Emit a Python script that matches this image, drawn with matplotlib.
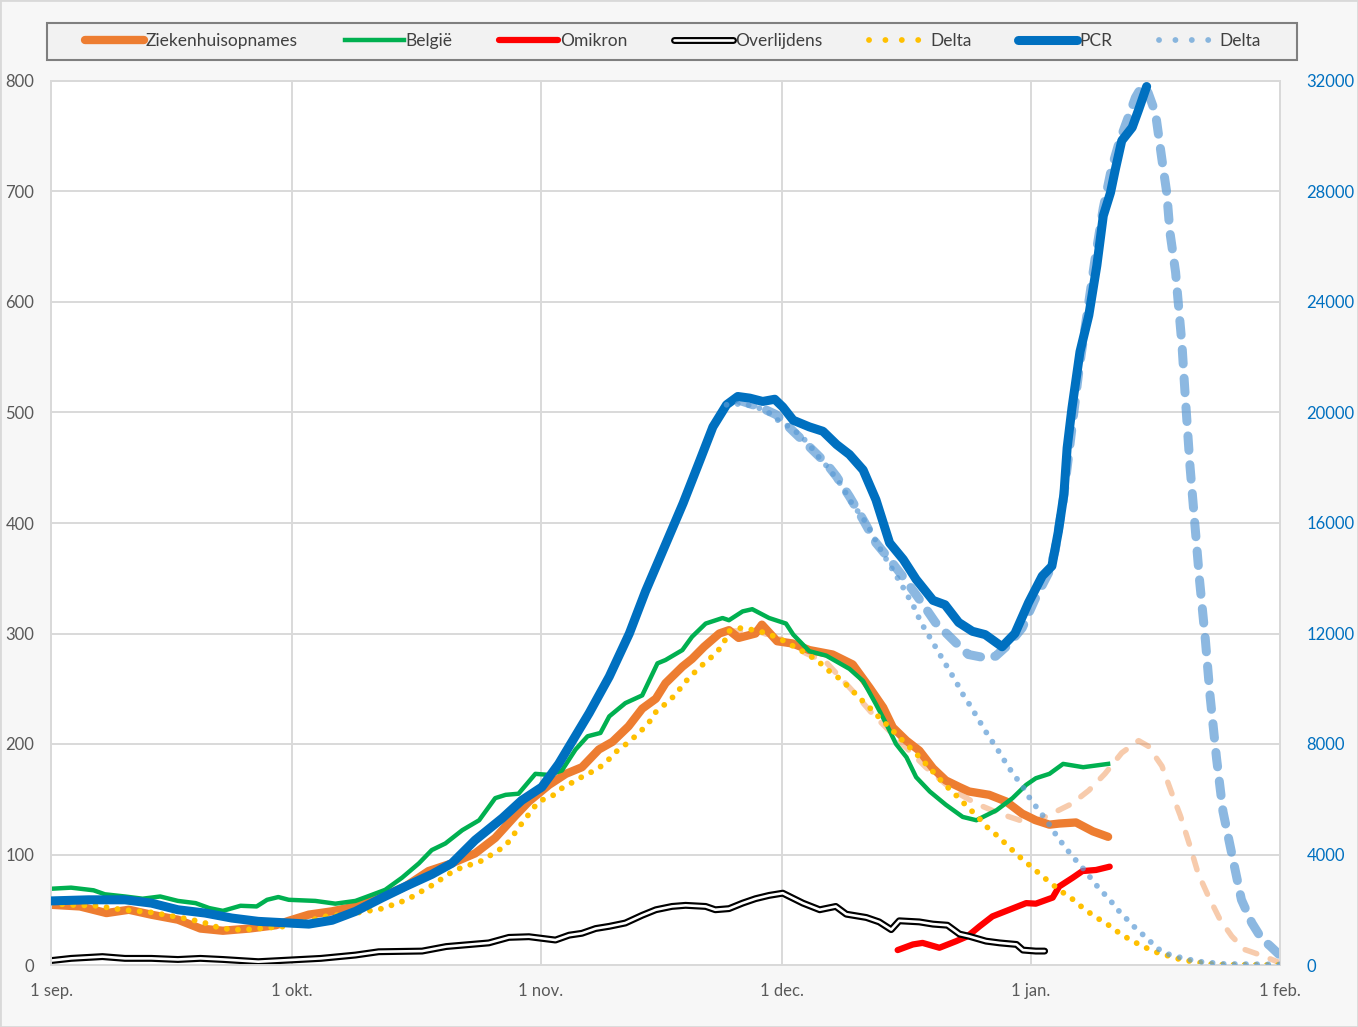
import matplotlib
matplotlib.use("Agg")
import matplotlib.pyplot as plt
from matplotlib.lines import Line2D
from matplotlib.patches import Rectangle

plt.rcParams['font.family'] = ['Lato', 'DejaVu Sans']

# x = days since 1 sep.
month_days = [0, 30, 61, 91, 122, 153]
month_labels = ["1 sep.", "1 okt.", "1 nov.", "1 dec.", "1 jan.", "1 feb."]

# --- left axis series ---
zh_days = [0, 3.6, 6.9, 9.7, 12.5, 15.8, 18.6, 21.4, 24.7, 28, 29.6, 32.1, 35, 37.9, 41.2,
           44.1, 47, 49.9, 52.8, 55.3, 57.8, 59.5, 62, 64.1, 66.1, 68.2, 69.9, 71.9, 73.6,
           75.3, 76.5, 78.6, 79.8, 81.3, 83.2, 84.4, 85.6, 87.7, 88.5, 90.4, 92.3, 94.4, 97.3,
           99.8, 101.9, 103.6, 104.8, 106.5, 108.1, 109.8, 111.4, 113.1, 114.3, 116.8, 118.9,
           120.9, 122.6, 124.3, 125.5, 127.6, 129.7, 131.6]
zh_vals = [54.5, 53, 47, 50, 45.5, 41, 33, 31, 33, 36, 40, 45.6, 48.6, 53, 62,
           71, 85, 92, 101, 115, 135, 148, 163, 173, 179, 195, 202, 216, 232,
           241, 255, 270, 277, 288, 300, 303, 296, 300, 308, 293, 291, 285, 281,
           272, 251, 233, 215, 203, 194, 178, 167, 161, 157, 154, 148,
           137, 131, 127, 128, 129, 121, 116]

zh_proj_days = [84.3, 87.6, 90.8, 94, 96.5, 99.8, 102.3, 105.6, 108.9, 112.3, 115.2, 118.1,
                120.6, 122.6, 124.6, 127.1, 129.2, 131.2, 133.3, 135.4, 136.6, 138.3, 139.5,
                140.6, 141.8, 142.8, 144.1, 145.5, 147, 148.6, 150.7, 153]
zh_proj_vals = [302, 303, 295, 282, 274, 248, 227, 203, 179, 158, 146, 137,
                131, 130, 137, 146, 158, 173, 192, 203, 198, 180, 156,
                135, 107.5, 83, 62, 41.6, 26, 14, 8.7, 2]

be_days = [0, 2.5, 5.3, 6.7, 9.2, 11.4, 13.6, 15.8, 18, 19.7, 21.4, 23.6, 25.6, 26.9, 28.3,
           29.6, 32.9, 35.4, 37.9, 39.4, 41.6, 43.7, 45.8, 47.4, 49.1, 51.2, 53.3, 55.3, 56.6,
           58.2, 60.3, 62, 63.6, 65.3, 66.8, 68.4, 69.5, 71.5, 73.6, 75.5, 76.5, 78.6, 79.8,
           81.5, 83.6, 84.4, 86.1, 87.3, 89.4, 91.5, 92.4, 94.4, 96.5, 99.4, 101.1, 102.7, 104,
           105.2, 106.5, 107.7, 109.4, 111.4, 113.5, 115.2, 117.7, 119.7, 121.4, 122.6, 124.3,
           126, 128.5, 131.6]
be_vals = [69, 70, 67.6, 64, 62, 60, 62, 58, 56, 51.5, 49, 53.6, 53, 59, 61.5,
           59, 58, 55.5, 58, 62, 68, 79, 92, 104, 110, 122, 131, 151, 154,
           155, 173, 172, 176, 195, 207, 210, 225, 237, 244, 273, 276, 285, 297,
           309, 314, 312, 320, 322, 314, 309, 299, 284, 280, 268, 257, 236, 218,
           200, 188, 170, 157, 145, 134, 131, 140, 151, 163, 169, 173,
           182, 179, 182]

om_days = [105.4, 107.3, 108.5, 110.6, 112.7, 114.1, 115.6, 117.2, 119.3, 121.4, 122.6,
           124.7, 125.5, 127.2, 128.4, 130.1, 131.8]
om_vals = [13.5, 18.6, 20, 15.6, 21.6, 26, 35, 44, 50, 56, 55.5, 61, 71, 79, 85, 86, 89]

ov_days = [0, 2.5, 6.4, 9.2, 12.5, 15.8, 18.6, 21.4, 25.8, 29.7, 33.6, 37.9, 40.8, 46.2,
           49.2, 54.5, 57, 59.5, 62.8, 64.5, 66.1, 67.8, 69.5, 71.5, 73.6, 75.3, 77.3, 79,
           81.5, 82.7, 84.4, 86.1, 87.7, 89.4, 91.1, 93.6, 95.7, 97.7, 99, 101.5, 103.1,
           104.6, 105.6, 108.1, 109.8, 111.6, 113.1, 114.3, 116.4, 118.1, 120.2, 121, 122.6,
           123.7]
ov_vals = [4, 6, 7.6, 6, 6, 5, 6, 5, 3, 4.5, 6, 9, 12, 12.6,
           16.7, 20, 25, 25.6, 22.6, 27, 28.7, 33, 35, 38, 45, 50, 53, 54,
           53, 50, 51, 56, 60, 63, 65, 56, 50, 53, 46, 43, 39,
           32, 40, 39, 37, 36, 28, 26, 21.6, 20, 18.6, 13.5, 12.6,
           12.6]

delta_zh_days = [0, 1.9, 5.6, 8.9, 12.5, 15.8, 17.5, 19.2, 20.8, 22.5,
                 24.2, 25.8, 29.2, 30.4, 34.2, 37.9, 41.2, 44.3, 47.4, 50.3,
                 53.5, 55.1, 56.6, 58.6, 60.7, 62.4, 63.6, 65.1, 66.5, 68,
                 69.3, 70.5, 71.8, 73.2, 74.4, 75.3, 76.6, 77.8, 78.8, 80,
                 81.3, 82.6, 83.7, 84.3, 85.9, 87.6, 89.2, 90.8, 92.3, 94,
                 95.5, 96.7, 98.2, 99.4, 100.6, 101.9, 103.1, 104.4, 105.6, 106.9,
                 108, 109.3, 110.4, 111.6, 112.9, 114.1, 115.4, 116.5, 117.8, 119.1,
                 120.4, 121.7, 123, 124.3, 125.7, 127.1, 128.4, 129.9, 131.4, 132.8,
                 134.3, 135.9, 137.4, 138.9, 140.6, 142.2, 144.1, 146, 153]
delta_zh_vals = [56, 54.5, 53.6, 50, 47.6, 43.3, 41, 38, 34, 32,
                 32, 33, 35, 37, 44, 47, 51, 59, 72, 86,
                 94, 101, 108, 128, 148, 153, 160, 166, 172, 177,
                 185, 194, 201, 210, 219, 229, 237, 245, 255, 264,
                 273, 281, 290, 302, 305, 303, 300, 295, 289, 282,
                 275, 267, 259, 251, 242, 233, 224, 215, 206, 197,
                 189, 179, 170, 161, 152, 143, 134, 125, 117, 108,
                 99, 91, 83, 75, 67, 60, 52, 44, 37.5, 30,
                 23, 17, 12, 8.7, 5, 3, 1, 0.3, 0]

# --- right axis series (cases) ---
pcr_days = [0, 4.7, 9.2, 12.5, 15.8, 19.2, 22.5, 25.8, 29.6, 32.1, 35, 37.9, 41.2, 44.1,
            47.4, 49.9, 52.8, 56.2, 58.6, 61.1, 63.2, 67, 69.5, 72, 74, 76, 78.7, 80.8, 82.4,
            84.1, 85.5, 87, 88.6, 90.1, 91.1, 92.4, 94.4, 96.1, 97.8, 99.4, 101.1, 102.7,
            104.4, 106.1, 107.7, 109.8, 111.3, 113, 114.7, 116.3, 118.4, 120, 121.7, 123.4,
            124.6, 125.4, 126.1, 126.5, 127.1, 128.1, 129.2, 130.2, 131, 131.9, 132.5, 133.3,
            134.6, 135.4, 136.4]
pcr_vals = [2320, 2360, 2360, 2240, 2000, 1880, 1700, 1580, 1520, 1480, 1620, 1940, 2430, 2840,
            3280, 3680, 4520, 5320, 5960, 6440, 7280, 9120, 10440, 12000, 13520, 14880, 16720,
            18280, 19480, 20280, 20580, 20520, 20400, 20480, 20200, 19720, 19480, 19320, 18840,
            18480, 17920, 16840, 15280, 14680, 13960, 13200, 13040, 12400, 12080, 11960, 11520,
            12000, 13120, 14080, 14440, 15680, 17040, 18720, 20160, 22200, 23520, 25320, 27120,
            27960, 28800, 29840, 30320, 30960, 31800]

delta_pcr_days = [84.1, 86.1, 87.7, 89, 90.5, 91.5, 93.2, 94.4, 95.3, 96.5, 97.6, 98.6, 99.4,
                  100.5, 101.5, 103.2, 104, 105, 105.9, 106.7, 107.5, 108.3, 109.2, 110.1,
                  110.9, 111.8, 112.7, 113.6, 114.5, 115.4, 116.3, 117.2, 118.2, 119.1, 120.1,
                  121.1, 122, 123.1, 124.1, 125.1, 126.1, 127.2, 128.3, 129.4, 130.5, 131.7,
                  132.8, 134, 135.2, 136.5, 137.6, 139, 141, 143, 146, 153]
delta_pcr_vals = [20280, 20320, 20200, 20080, 19720, 19560, 19200, 18840, 18480, 18080, 17680,
                  17280, 16840, 16400, 16000, 15080, 14680, 14200, 13760, 13340, 12920, 12400,
                  11960, 11520, 11120, 10680, 10240, 9760, 9360, 8920, 8480, 8080, 7640, 7200,
                  6800, 6400, 5960, 5560, 5160, 4720, 4320, 3920, 3560, 3160, 2760, 2400, 2000,
                  1640, 1280, 960, 620, 400, 240, 120, 40, 20]

pcr_proj_days = [85.7, 88.2, 90.3, 92.4, 94.4, 96.5, 97.8, 99.4, 101.1, 102.7, 104.4, 106,
                 108.4, 110.1, 112.6, 114.2, 116.3, 117.6, 119.2, 120.9, 122.5, 124.2, 125,
                 126, 127, 128, 129, 130, 131, 132, 133, 134, 135, 135.8, 136.5, 137.5, 138.3,
                 138.9, 139.3, 140, 140.4, 140.8, 141.2, 141.8, 142.4, 143, 143.7, 144.3, 145.1,
                 145.9, 147, 148.2, 149.5, 150.7, 151.8, 153]
pcr_proj_vals = [20440, 20200, 19920, 19320, 18760, 18160, 17680, 16960, 16120, 15280, 14680,
                 14080, 13120, 12400, 11680, 11240, 11120, 11180, 11600, 12200, 13240, 14200,
                 15000, 16800, 19200, 21600, 23600, 25600, 27400, 28800, 29800, 30600, 31400,
                 31800, 31640, 30840, 29160, 27960, 26520, 25080, 23760, 22440, 20600, 18040,
                 15960, 13880, 11800, 9720, 7480, 5560, 4020, 2360, 1520, 960, 680, 350]

ORANGE = "#ED7D31"
GREEN = "#00B050"
RED = "#FF0000"
YELLOW = "#FFC000"
BLUE = "#0070C0"
LIGHTBLUE = "#5B9BD5"
GRID = "#D9D9D9"

W, H = 1358, 1027
fig = plt.figure(figsize=(W / 100, H / 100), dpi=100, facecolor="#F7F7F7")
fig.patches.append(Rectangle((0, 0), 1, 1, transform=fig.transFigure, fill=False,
                             edgecolor=GRID, linewidth=2))
# legend box drawn as its own rectangle, spanning the chart width
fig.patches.append(Rectangle((47 / W, (H - 60) / H), 1250 / W, 37 / H,
                             transform=fig.transFigure, facecolor="#F2F2F2",
                             edgecolor="#7F7F7F", linewidth=1.5))
ax1 = fig.add_axes([51 / W, 62 / H, 1229 / W, 884 / H])
ax1.set_facecolor("white")
ax2 = ax1.twinx()

dot = (0, (0.01, 1.9))
dash_or = (0, (2.2, 2.6))
dash_bl = (0, (1.6, 1.6))

# left axis
ax1.plot(zh_proj_days, zh_proj_vals, color=ORANGE, alpha=0.4, lw=4, ls=dash_or,
         dash_capstyle="round", zorder=2)
l_zh, = ax1.plot(zh_days, zh_vals, color=ORANGE, lw=6, solid_capstyle="round",
                 solid_joinstyle="round", zorder=3)
l_be, = ax1.plot(be_days, be_vals, color=GREEN, lw=3.2, solid_joinstyle="round", zorder=4)
l_om, = ax1.plot(om_days, om_vals, color=RED, lw=4.5, solid_capstyle="round", zorder=5)
l_ov1, = ax1.plot(ov_days, ov_vals, color="black", lw=5, solid_capstyle="round",
                  solid_joinstyle="round", zorder=6)
l_ov2, = ax1.plot(ov_days, ov_vals, color="white", lw=1.9, solid_capstyle="round",
                  solid_joinstyle="round", zorder=7)
l_dz, = ax1.plot(delta_zh_days, delta_zh_vals, color=YELLOW, lw=4.2, ls=dot,
                 dash_capstyle="round", zorder=8)

# right axis
ax2.plot(pcr_proj_days, pcr_proj_vals, color=LIGHTBLUE, alpha=0.7, lw=6.5, ls=dash_bl,
         dash_capstyle="round", zorder=2)
l_pcr, = ax2.plot(pcr_days, pcr_vals, color=BLUE, lw=6.5, solid_capstyle="round",
                  solid_joinstyle="round", zorder=3)
l_dp, = ax2.plot(delta_pcr_days, delta_pcr_vals, color=LIGHTBLUE, alpha=0.7, lw=4.2, ls=dot,
                 dash_capstyle="round", zorder=4)

ax1.set_xlim(0, 153)
ax1.set_ylim(0, 800)
ax2.set_ylim(0, 32000)
ax1.set_xticks(month_days)
ax1.set_xticklabels(month_labels)
ax1.set_yticks(range(0, 801, 100))
ax2.set_yticks(range(0, 32001, 4000))
ax1.grid(True, color=GRID, lw=1.4)
ax1.set_axisbelow(True)

for ax in (ax1, ax2):
    for s in ax.spines.values():
        s.set_color(GRID)
        s.set_linewidth(1.4)
ax1.tick_params(axis="both", length=0, labelsize=12, labelcolor="#595959")
ax1.tick_params(axis="y", pad=12)
ax1.tick_params(axis="x", pad=13)
ax2.tick_params(axis="y", length=0, labelsize=12, labelcolor=BLUE, pad=19)
ax2.tick_params(axis="x", length=0)

# legend proxies for the dotted series: wider dot spacing, as in the original legend
leg_dot = (0, (0.01, 2.8))
h_dz = Line2D([], [], color=YELLOW, lw=4.2, ls=leg_dot, dash_capstyle="round")
h_dp = Line2D([], [], color=LIGHTBLUE, alpha=0.7, lw=4.2, ls=leg_dot, dash_capstyle="round")

handles = [l_zh, l_be, l_om, (l_ov1, l_ov2), h_dz, l_pcr, h_dp]
labels = ["Ziekenhuisopnames", "België", "Omikron", "Overlijdens", "Delta", "PCR", "Delta"]
leg = fig.legend(handles, labels, loc="center", ncol=7, frameon=False,
                 bbox_to_anchor=(673 / W, (H - 41) / H),
                 fontsize=12.5, handlelength=3.4, handletextpad=0.1,
                 columnspacing=2.7, borderaxespad=0, borderpad=0,
                 labelcolor="#404040")

fig.savefig("out.png", dpi=100, facecolor=fig.get_facecolor())
